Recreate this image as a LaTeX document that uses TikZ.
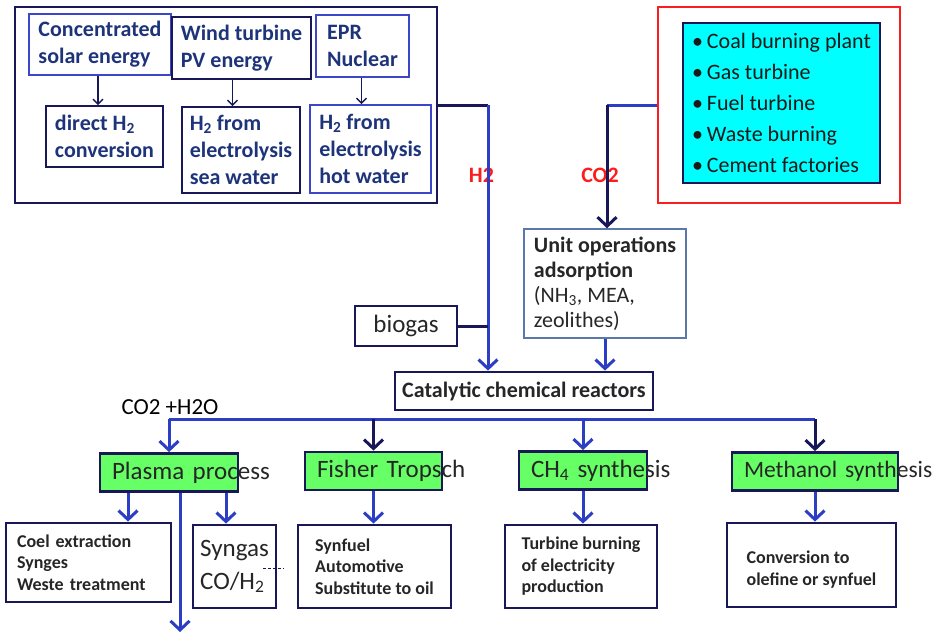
\documentclass[tikz,border=0pt]{standalone}
\usepackage{fontspec}
\setmainfont{Carlito}
\usetikzlibrary{arrows.meta}

\definecolor{navy}{RGB}{24,24,88}
\definecolor{flowblue}{RGB}{44,62,196}
\definecolor{inkblue}{RGB}{30,52,122}
\definecolor{edgeblue}{RGB}{60,70,200}
\definecolor{steelblue}{RGB}{90,120,170}
\definecolor{plantgreen}{RGB}{102,255,102}
\definecolor{fluecyan}{RGB}{0,255,255}
\definecolor{alertred}{RGB}{250,30,30}

\tikzset{
	srcbox/.style={draw=navy, line width=1.6pt, text=inkblue, align=left, inner sep=0pt, font=\bfseries\fontsize{22}{27}\selectfont},
	reactbox/.style={draw=navy, line width=2.8pt, inner sep=0pt, text=black!85},
	greenbox/.style={reactbox, fill=plantgreen, inner xsep=12pt, inner ysep=0pt, minimum height=38pt, align=left, font=\fontsize{25}{30}\selectfont},
	outbox/.style={reactbox, align=left, font=\bfseries\fontsize{18}{21.5}\selectfont},
	thin arrow/.style={draw=navy, line width=1.4pt, -{Straight Barb[length=5pt,width=10pt]}},
	flow/.style={draw=flowblue, line width=3pt},
	flow arrow/.style={flow, -{Straight Barb[length=9pt,width=19pt]}},
	redlabel/.style={text=alertred, font=\bfseries\fontsize{22}{27}\selectfont, inner sep=0pt}
}

\begin{document}
\begin{tikzpicture}[x=1pt, y=-1pt]
	\useasboundingbox (0,0) rectangle (941,634);

	% hydrogen sources
	\node[draw=navy, line width=2.2pt, minimum width=422pt, minimum height=196pt](sources) at (226,105) {};
	\node[srcbox, draw=edgeblue, minimum width=142pt, minimum height=61pt](solar) at (100,44.5) {Concentrated\\solar energy};
	\node[srcbox, minimum width=139pt, minimum height=62pt](wind) at (241.5,48) {Wind turbine\\PV energy};
	\node[srcbox, draw=edgeblue, minimum width=93pt, minimum height=62pt](epr) at (362.5,46) {EPR\\Nuclear};
	\node[srcbox, minimum width=117pt, minimum height=61pt](direct) at (104.5,136.5) {direct H\textsubscript{2}\\conversion};
	\node[srcbox, minimum width=118pt, minimum height=86pt](sea) at (241,150) {H\textsubscript{2} from\\electrolysis\\sea water};
	\node[srcbox, draw=edgeblue, minimum width=121pt, minimum height=88pt](hot) at (370.5,149) {H\textsubscript{2} from\\electrolysis\\hot water};

	\draw[thin arrow] ([xshift=-2pt]solar.south) -- ([xshift=-2pt]solar.south |- direct.north);
	\draw[thin arrow] ([xshift=-9pt]wind.south) -- ([xshift=-9pt]wind.south |- sea.north);
	\draw[thin arrow] ([xshift=-1pt]epr.south) -- ([xshift=-1pt]epr.south |- hot.north);

	% CO2 emitters
	\node[draw=alertred, line width=1.6pt, minimum width=242pt, minimum height=196pt](emitters) at (779,105) {};
	\node[draw=navy, line width=1.6pt, fill=fluecyan, minimum width=197pt, minimum height=160pt, align=left, inner sep=0pt, text=black!90, font=\fontsize{22}{31}\selectfont](plants) at (781.5,103) {\textbullet\hspace{4pt}Coal burning plant\\\textbullet\hspace{4pt}Gas turbine\\\textbullet\hspace{4pt}Fuel turbine\\\textbullet\hspace{4pt}Waste burning\\\textbullet\hspace{4pt}Cement factories};

	% capture and reactors
	\node[draw=steelblue, line width=1.5pt, minimum width=162pt, minimum height=109pt, align=left, inner sep=0pt, text=black!85, font=\fontsize{22}{25}\selectfont](unit) at (605,283.5) {\textbf{Unit operations}\\\textbf{adsorption}\\(NH\textsubscript{3}, MEA,\\zeolithes)};
	\node[reactbox, minimum width=102pt, minimum height=40pt, font=\fontsize{25}{30}\selectfont](biogas) at (406,326) {biogas};
	\node[reactbox, minimum width=258pt, minimum height=38pt, font=\bfseries\fontsize{22}{27}\selectfont](react) at (524,391) {Catalytic chemical reactors};

	\node[redlabel](h2) at (481.5,175) {H2};
	\node[redlabel](co2) at (600,175) {CO2};

	\coordinate (h2bend) at (488,105);
	\coordinate (co2bend) at (607,105);
	\draw[navy, line width=3pt] (sources.east) -- (h2bend);
	\draw[flow arrow] (h2bend) -- (h2bend |- react.north);
	\draw[flow] (emitters.west) -- (co2bend);
	\draw[flow arrow, draw=navy] (co2bend) -- (co2bend |- unit.north);
	\draw[navy, line width=3pt] (biogas.east) -- (biogas.east -| h2bend);
	\draw[flow arrow] (unit.south) -- (unit.south |- react.north);

	% processes
	\node[text=black, font=\fontsize{23}{27}\selectfont, inner sep=0pt](mix) at (170,407) {CO2 +H2O};
	\node[greenbox, text width=114pt](plasma) at (169,472.5) {\rlap{Plasma process}};
	\node[greenbox, text width=113pt](fisher) at (373.5,471) {\rlap{Fisher Tropsch}};
	\node[greenbox, text width=104pt](ch4) at (583,470.5) {\rlap{CH\textsubscript{4} synthesis}};
	\node[greenbox, text width=142pt, font=\fontsize{23.5}{30}\selectfont](methanol) at (815,471.5) {\rlap{Methanol synthesis}};

	\coordinate (bus) at (0,419);
	\draw[flow] (plasma.north |- bus) -- (methanol.north |- bus);
	\draw[flow arrow] (plasma.north |- bus) -- (plasma.north);
	\draw[flow arrow, draw=navy] (fisher.north |- bus) -- (fisher.north);
	\draw[flow arrow] (ch4.north |- bus) -- (ch4.north);
	\draw[flow arrow, draw=navy] (methanol.north |- bus) -- (methanol.north);

	% products
	\node[outbox, text width=143pt, inner xsep=11pt, minimum height=79pt](coel) at (88.5,562.5) {Coel extraction\\Synges\\Weste treatment};
	\node[outbox, minimum width=83pt, minimum height=83pt, font=\fontsize{25}{33}\selectfont](syngas) at (234.5,566.5) {Syngas\\CO/H\textsubscript{2}};
	\node[outbox, minimum width=153pt, minimum height=83pt](synfuel) at (374.5,566.5) {Synfuel\\Automotive\\Substitute to oil};
	\node[outbox, minimum width=152pt, minimum height=83pt](turbine) at (581,566.5) {Turbine burning\\of electricity\\production};
	\node[outbox, minimum width=169pt, minimum height=84pt](conversion) at (811.5,565) {\mbox{}\\Conversion to\\olefine or synfuel};
	\draw[navy, line width=1pt, dash pattern=on 3pt off 2pt] (263,568) -- (284,568);

	\coordinate (plasmaout) at (180,632);
	\draw[flow arrow] ([xshift=-41pt]plasma.south) -- ([xshift=-41pt]plasma.south |- coel.north);
	\draw[flow arrow] ([xshift=57pt]plasma.south) -- ([xshift=57pt]plasma.south |- syngas.north);
	\draw[flow arrow] ([xshift=11pt]plasma.south) -- (plasmaout);
	\draw[flow arrow] (fisher.south) -- (fisher.south |- synfuel.north);
	\draw[flow arrow] (ch4.south) -- (ch4.south |- turbine.north);
	\draw[flow arrow] (methanol.south) -- (methanol.south |- conversion.north);
\end{tikzpicture}
\end{document}
